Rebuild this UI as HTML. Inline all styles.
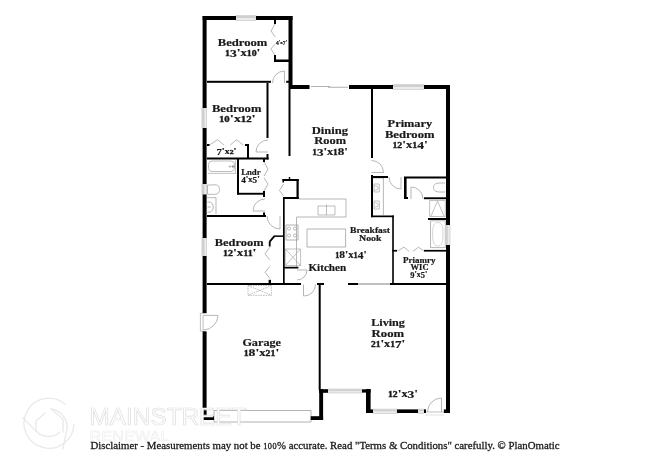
<!DOCTYPE html><html><head><meta charset="utf-8"><style>html,body{margin:0;padding:0;background:#fff;}svg{display:block;filter:grayscale(1)}</style></head><body>
<svg width="650" height="473" viewBox="0 0 650 473">
<rect width="650" height="473" fill="#fff"/>
<path d="M269.7,241.6 L274.4,236.1" fill="none" stroke="#000" stroke-width="1.8"/>
<path d="M284.5,83 L284.5,71 A12.0,12.0 0 0 0 272.5,83" fill="none" stroke="#a4a4a4" stroke-width="0.8"/>
<path d="M268,152 L256,152 A12.0,12.0 0 0 1 268,140" fill="none" stroke="#a4a4a4" stroke-width="0.8"/>
<path d="M265,211 L253,211 A12.0,12.0 0 0 1 265,199" fill="none" stroke="#a4a4a4" stroke-width="0.8"/>
<path d="M280,216 L280,229 A13.0,13.0 0 0 1 267,216" fill="none" stroke="#a4a4a4" stroke-width="0.8"/>
<path d="M203.1,315.4 L218,315.4 A14.9,14.9 0 0 1 203.1,330" fill="none" stroke="#a4a4a4" stroke-width="0.8"/>
<path d="M203.1,315.4 V330 M203,313.2 H200.4 V331.2 H203" fill="none" stroke="#a8a8a8" stroke-width="0.7"/>
<path d="M441.5,412 L441.5,398 A14.0,14.0 0 0 0 427.5,412" fill="none" stroke="#a4a4a4" stroke-width="0.8"/>
<path d="M426,412 H444" fill="none" stroke="#a8a8a8" stroke-width="0.7"/>
<path d="M425,415 H444" fill="none" stroke="#cccccc" stroke-width="0.6"/>
<path d="M371.5,172.5 L383.5,172.5 A12.0,12.0 0 0 0 371.5,160.5" fill="none" stroke="#a4a4a4" stroke-width="0.8"/>
<path d="M401,177 L401,189 A12.0,12.0 0 0 1 389,177" fill="none" stroke="#a4a4a4" stroke-width="0.8"/>
<path d="M411,199 L411,187 A12.0,12.0 0 0 1 423,199" fill="none" stroke="#a4a4a4" stroke-width="0.8"/>
<path d="M297,270 L307,270 A10.0,10.0 0 0 1 297,280" fill="none" stroke="#a4a4a4" stroke-width="0.8"/>
<path d="M303.5,284.5 L303.5,296 A11.5,11.5 0 0 0 315.5,284.5" fill="none" stroke="#a4a4a4" stroke-width="0.8"/>
<path d="M275,24 L271,31 L275.3,37 M275.3,43.8 L271,48.8 L275,55.6" fill="none" stroke="#a4a4a4" stroke-width="0.8"/>
<path d="M209.5,145 L217.5,139.7 L224,145 M230.3,145 L236.6,139.7 L243.2,145" fill="none" stroke="#a4a4a4" stroke-width="0.8"/>
<path d="M264,162 L268,169 L264,176 M264,178 L268,184 L264,191" fill="none" stroke="#a4a4a4" stroke-width="0.8"/>
<path d="M283.5,184 L279.5,190.5 L283.5,196" fill="none" stroke="#a4a4a4" stroke-width="0.8"/>
<path d="M269.8,247.2 L265,253.9 L269.8,259.8 M269.8,266.4 L265,272.4 L269.8,278.3" fill="none" stroke="#a4a4a4" stroke-width="0.8"/>
<path d="M397.5,251 L404,247.2 L409,251.3 M413,251.3 L418.6,247.2 L423.8,251" fill="none" stroke="#a4a4a4" stroke-width="0.8"/>
<path d="M208,173.4 H235.5 M235.5,160.5 V174" fill="none" stroke="#b4b4b4" stroke-width="0.8"/>
<path d="M212,161 H231 a3.5,3.5 0 0 1 3.5,3.5 V168 a3.5,3.5 0 0 1 -3.5,3.5 H212 a3.5,3.5 0 0 1 -3.5,-3.5 V164.5 a3.5,3.5 0 0 1 3.5,-3.5 Z" fill="none" stroke="#acacac" stroke-width="0.8"/>
<path d="M228.5,166.5 h3 M230,165 v3" fill="none" stroke="#a0a0a0" stroke-width="0.6"/>
<path d="M233,166.5 m-0.9,0 a0.9,0.9 0 1,0 1.8,0 a0.9,0.9 0 1,0 -1.8,0" fill="#909090" stroke="#909090" stroke-width="0.6"/>
<path d="M207.5,185 h4 c6,-1 8,1 8,4.5 c0,3.5 -2,5.5 -8,4.8 h-4 Z" fill="none" stroke="#a4a4a4" stroke-width="0.8"/>
<path d="M207,197.7 H216 V214" fill="none" stroke="#a4a4a4" stroke-width="0.8"/>
<path d="M207.5,202 h1.5 a4.3,5.1 0 0 1 0,10.2 h-1.5 M207.5,207 h3" fill="none" stroke="#a0a0a0" stroke-width="0.8"/>
<path d="M298.7,199 H346 V217 H296.5 V267" fill="none" stroke="#a4a4a4" stroke-width="0.8"/>
<path d="M318,206 H335 V215 H318 Z M326.5,206 V215 M326.5,206 v-1.5" fill="none" stroke="#a0a0a0" stroke-width="0.7"/>
<path d="M307,229 H345.6 V247 H307 Z" fill="none" stroke="#a0a0a0" stroke-width="0.8"/>
<path d="M286,225 H298 V240 H286 Z" fill="none" stroke="#a0a0a0" stroke-width="0.8"/>
<path d="M289,228.5 m-1.6,0 a1.6,1.6 0 1,0 3.2,0 a1.6,1.6 0 1,0 -3.2,0 M295,228.5 m-1.6,0 a1.6,1.6 0 1,0 3.2,0 a1.6,1.6 0 1,0 -3.2,0 M289,235.5 m-1.6,0 a1.6,1.6 0 1,0 3.2,0 a1.6,1.6 0 1,0 -3.2,0 M295,235.5 m-1.6,0 a1.6,1.6 0 1,0 3.2,0 a1.6,1.6 0 1,0 -3.2,0" fill="none" stroke="#a0a0a0" stroke-width="0.7"/>
<path d="M285.3,249 H300.6 V265.6 H285.3 Z M285.3,249 L300.6,265.6 M300.6,249 L285.3,265.6" fill="none" stroke="#a8a8a8" stroke-width="0.7"/>
<path d="M373,178 H383.4 V215" fill="none" stroke="#a4a4a4" stroke-width="0.8"/>
<path d="M374,184 h5.3 v8 h-5.3 Z M374,201 h5.3 v8 h-5.3 Z" fill="none" stroke="#a8a8a8" stroke-width="0.7"/>
<path d="M374.5,186 h1.5 a2.2,2 0 0 1 0,4 h-1.5 M374.5,203 h1.5 a2.2,2 0 0 1 0,4 h-1.5" fill="none" stroke="#a0a0a0" stroke-width="0.6"/>
<path d="M445,183 h-5 c-5,0 -6.5,2 -6.5,4.5 c0,2.5 1.5,4.5 6.5,4.5 h5" fill="none" stroke="#a4a4a4" stroke-width="0.8"/>
<path d="M429.6,200.5 H445.3 V216.5 H429.6 Z M437.5,201 L431,216 M437.5,201 L444,216" fill="none" stroke="#a8a8a8" stroke-width="0.7"/>
<path d="M430.5,220.8 H445.3 V247.6 H430.5 Z" fill="none" stroke="#a4a4a4" stroke-width="0.8"/>
<path d="M437.8,222.5 c4,0 5.2,3 5.2,11.5 c0,8 -1.2,12 -5.2,12 c-4,0 -5.2,-4 -5.2,-12 c0,-8 1.2,-11.5 5.2,-11.5 Z" fill="none" stroke="#b8b8b8" stroke-width="0.6"/>
<path d="M248,285.5 H271.4 V295.3 H248 Z M248,285.5 L271.4,295.3 M271.4,285.5 L248,295.3" fill="none" stroke-dasharray="1.6,0.9" stroke="#a4a4a4" stroke-width="0.7"/>
<path d="M214,410.5 H311 V422 H214 Z" fill="none" stroke="#a0a0a0" stroke-width="0.8"/>
<path d="M311,86.5 H330 M328,87.2 H348" fill="none" stroke="#b0b0b0" stroke-width="1.1"/>
<path d="M358,284 H390" fill="none" stroke="#b0b0b0" stroke-width="1.6"/>
<path d="M424,409.5 V413 M444,409.5 V413" fill="none" stroke="#999" stroke-width="0.8"/>
<rect x="236" y="15.5" width="20.00" height="5.00" fill="#ececec" stroke="#c4c4c4" stroke-width="0.6"/>
<rect x="236.5" y="16" width="19.00" height="2.00" fill="#cfcfcf"/>
<rect x="201.9" y="108" width="4.70" height="20.00" fill="#ececec" stroke="#c4c4c4" stroke-width="0.6"/>
<rect x="202.1" y="108.5" width="2.30" height="19.00" fill="#cfcfcf"/>
<rect x="201.9" y="184" width="4.70" height="10.50" fill="#ececec" stroke="#c4c4c4" stroke-width="0.6"/>
<rect x="202.1" y="184.5" width="2.30" height="9.50" fill="#cfcfcf"/>
<rect x="201.9" y="238" width="4.70" height="18.00" fill="#ececec" stroke="#c4c4c4" stroke-width="0.6"/>
<rect x="202.1" y="238.5" width="2.30" height="17.00" fill="#cfcfcf"/>
<rect x="393" y="84.5" width="31.00" height="5.00" fill="#ececec" stroke="#c4c4c4" stroke-width="0.6"/>
<rect x="393.5" y="85" width="30.00" height="2.00" fill="#cfcfcf"/>
<rect x="445.3" y="225" width="4.70" height="20.00" fill="#ececec" stroke="#c4c4c4" stroke-width="0.6"/>
<rect x="445.5" y="225.5" width="2.30" height="19.00" fill="#cfcfcf"/>
<rect x="328" y="389.0" width="34.00" height="4.00" fill="#ececec" stroke="#c4c4c4" stroke-width="0.6"/>
<rect x="328.5" y="389.5" width="33.00" height="1.50" fill="#cfcfcf"/>
<rect x="373" y="409.1" width="24.00" height="4.20" fill="#ececec" stroke="#c4c4c4" stroke-width="0.6"/>
<rect x="373.5" y="409.6" width="23.00" height="1.60" fill="#cfcfcf"/>
<rect x="418" y="409.1" width="6.00" height="4.20" fill="#ececec" stroke="#c4c4c4" stroke-width="0.6"/>
<rect x="418.5" y="409.6" width="5.00" height="1.60" fill="#cfcfcf"/>
<rect x="202.6" y="16" width="33.40" height="4.00" fill="#000"/>
<rect x="256" y="16" width="36.50" height="4.00" fill="#000"/>
<rect x="288.5" y="16" width="4.00" height="73.00" fill="#000"/>
<rect x="202.6" y="16" width="4.00" height="92.00" fill="#000"/>
<rect x="202.6" y="128" width="4.00" height="56.00" fill="#000"/>
<rect x="202.6" y="194.5" width="4.00" height="43.50" fill="#000"/>
<rect x="202.6" y="256" width="4.00" height="57.20" fill="#000"/>
<rect x="202.6" y="331.3" width="4.00" height="88.70" fill="#000"/>
<rect x="274" y="20" width="2.00" height="4.00" fill="#000"/>
<rect x="274" y="55" width="2.00" height="7.00" fill="#000"/>
<rect x="274" y="59.5" width="15.00" height="2.50" fill="#000"/>
<rect x="207" y="80.8" width="64.00" height="2.00" fill="#000"/>
<rect x="286.2" y="80.8" width="2.80" height="2.00" fill="#000"/>
<rect x="266.5" y="83" width="2.00" height="55.00" fill="#000"/>
<rect x="266.5" y="154" width="2.00" height="5.50" fill="#000"/>
<rect x="289" y="85" width="20.50" height="4.00" fill="#000"/>
<rect x="349" y="85" width="44.00" height="4.00" fill="#000"/>
<rect x="424" y="85" width="26.00" height="4.00" fill="#000"/>
<rect x="288.5" y="89" width="2.00" height="67.00" fill="#000"/>
<rect x="371" y="85" width="2.00" height="73.00" fill="#000"/>
<rect x="446" y="85" width="4.00" height="140.00" fill="#000"/>
<rect x="446" y="245" width="4.00" height="168.00" fill="#000"/>
<rect x="207" y="144" width="2.50" height="2.00" fill="#000"/>
<rect x="245" y="144" width="4.00" height="2.00" fill="#000"/>
<rect x="247" y="144" width="2.00" height="14.00" fill="#000"/>
<rect x="207" y="157.5" width="61.50" height="2.00" fill="#000"/>
<rect x="237" y="159" width="2.00" height="35.50" fill="#000"/>
<rect x="237" y="192.8" width="28.00" height="1.90" fill="#000"/>
<rect x="263" y="191" width="2.00" height="6.00" fill="#000"/>
<rect x="263" y="159" width="2.00" height="3.00" fill="#000"/>
<rect x="207" y="215" width="59.00" height="2.00" fill="#000"/>
<rect x="263" y="212.5" width="2.00" height="4.50" fill="#000"/>
<rect x="282.5" y="179" width="16.20" height="2.00" fill="#000"/>
<rect x="296.5" y="179" width="2.20" height="20.00" fill="#000"/>
<rect x="283" y="197" width="15.70" height="2.00" fill="#000"/>
<rect x="282.5" y="179" width="1.50" height="3.50" fill="#000"/>
<rect x="283" y="197" width="1.70" height="88.00" fill="#000"/>
<rect x="274" y="235.4" width="9.00" height="1.50" fill="#000"/>
<rect x="268.8" y="241.3" width="1.80" height="5.20" fill="#000"/>
<rect x="268.6" y="279.8" width="2.40" height="4.20" fill="#000"/>
<rect x="288.8" y="177" width="1.40" height="2.00" fill="#000"/>
<rect x="284" y="266.8" width="14.40" height="1.70" fill="#000"/>
<rect x="207" y="283" width="94.00" height="2.00" fill="#000"/>
<rect x="317" y="283" width="7.00" height="2.00" fill="#000"/>
<rect x="348" y="283" width="10.00" height="2.00" fill="#000"/>
<rect x="390" y="283" width="56.00" height="2.00" fill="#000"/>
<rect x="318.7" y="283" width="2.00" height="107.00" fill="#000"/>
<rect x="319.2" y="389" width="3.90" height="31.00" fill="#000"/>
<rect x="202.6" y="416" width="11.40" height="4.00" fill="#000"/>
<rect x="310.7" y="416.2" width="12.40" height="3.80" fill="#000"/>
<rect x="371" y="176" width="17.00" height="2.00" fill="#000"/>
<rect x="404" y="176.5" width="42.00" height="2.00" fill="#000"/>
<rect x="371" y="175" width="2.00" height="42.20" fill="#000"/>
<rect x="371" y="215.5" width="22.80" height="1.70" fill="#000"/>
<rect x="392.2" y="215.5" width="1.60" height="69.50" fill="#000"/>
<rect x="404" y="177" width="2.60" height="22.00" fill="#000"/>
<rect x="404" y="197" width="4.00" height="2.00" fill="#000"/>
<rect x="424" y="197.3" width="22.00" height="1.90" fill="#000"/>
<rect x="428" y="218" width="18.00" height="2.00" fill="#000"/>
<rect x="392.2" y="249.9" width="4.80" height="1.70" fill="#000"/>
<rect x="424" y="249.9" width="22.00" height="1.70" fill="#000"/>
<rect x="392.2" y="283" width="53.80" height="2.00" fill="#000"/>
<rect x="319" y="389.2" width="9.00" height="3.60" fill="#000"/>
<rect x="362" y="389.3" width="8.60" height="3.30" fill="#000"/>
<rect x="366" y="389" width="4.60" height="24.00" fill="#000"/>
<rect x="366" y="409.4" width="7.00" height="3.60" fill="#000"/>
<rect x="397" y="409.4" width="21.00" height="3.60" fill="#000"/>
<rect x="424" y="409.4" width="2.00" height="3.60" fill="#000"/>
<rect x="444" y="409.4" width="6.00" height="3.60" fill="#000"/>
<g fill="none" stroke="#e9e9e9" stroke-width="1.3" stroke-linecap="round"><path d="M65,404 A25,25 0 1 0 74,424"/><path d="M51,409 A18,18 0 0 1 66,433 L63,449"/><path d="M23,418 L36,431 A17,17 0 0 0 60,432"/><path d="M51,409 L63,419 L63,432 M36,431 L36,421 L45,413"/></g>
<text x="89.5" y="425" font-family="Liberation Sans, sans-serif" font-size="23.5" fill="#fff" stroke="#dedede" stroke-width="0.7" textLength="157" lengthAdjust="spacingAndGlyphs">MAINSTREET</text>
<text x="89.5" y="440.5" font-family="Liberation Sans, sans-serif" font-size="13.8" fill="#fff" stroke="#ececec" stroke-width="0.5" textLength="80" lengthAdjust="spacingAndGlyphs">RENEWAL</text>
<text x="242.55" y="46.3" text-anchor="middle" font-family="Liberation Serif, serif" font-weight="bold" font-size="11" fill="#1a1a1a" stroke="#1a1a1a" stroke-width="0.2" textLength="49.7" lengthAdjust="spacingAndGlyphs">Bedroom</text>
<text x="242.70000000000002" y="56.4" text-anchor="middle" font-family="Liberation Serif, serif" font-weight="bold" font-size="11" fill="#1a1a1a" stroke="#1a1a1a" stroke-width="0.2" textLength="35.4" lengthAdjust="spacingAndGlyphs"><tspan font-size="7.92" stroke="#1a1a1a" stroke-width="0.35">1</tspan><tspan baseline-shift="-1.32">3</tspan>'<tspan font-size="10.12">x</tspan><tspan font-size="7.92" stroke="#1a1a1a" stroke-width="0.35">1</tspan><tspan font-size="7.92" stroke="#1a1a1a" stroke-width="0.35">0</tspan>'</text>
<text x="281.6" y="43.8" text-anchor="middle" font-family="Liberation Serif, serif" font-weight="bold" font-size="5.2" fill="#1a1a1a" stroke="#1a1a1a" stroke-width="0.2" textLength="11.2" lengthAdjust="spacingAndGlyphs"><tspan baseline-shift="-0.62">4</tspan>'<tspan font-size="4.78">x</tspan><tspan baseline-shift="-0.62">7</tspan>'</text>
<text x="236.65" y="111.7" text-anchor="middle" font-family="Liberation Serif, serif" font-weight="bold" font-size="11" fill="#1a1a1a" stroke="#1a1a1a" stroke-width="0.2" textLength="49.5" lengthAdjust="spacingAndGlyphs">Bedroom</text>
<text x="237.4" y="122.3" text-anchor="middle" font-family="Liberation Serif, serif" font-weight="bold" font-size="11" fill="#1a1a1a" stroke="#1a1a1a" stroke-width="0.2" textLength="36.8" lengthAdjust="spacingAndGlyphs"><tspan font-size="7.92" stroke="#1a1a1a" stroke-width="0.35">1</tspan><tspan font-size="7.92" stroke="#1a1a1a" stroke-width="0.35">0</tspan>'<tspan font-size="10.12">x</tspan><tspan font-size="7.92" stroke="#1a1a1a" stroke-width="0.35">1</tspan><tspan font-size="7.92" stroke="#1a1a1a" stroke-width="0.35">2</tspan>'</text>
<text x="226.55" y="154.4" text-anchor="middle" font-family="Liberation Serif, serif" font-weight="bold" font-size="8" fill="#1a1a1a" stroke="#1a1a1a" stroke-width="0.2" textLength="20.1" lengthAdjust="spacingAndGlyphs"><tspan baseline-shift="-0.96">7</tspan>'<tspan font-size="7.36">x</tspan><tspan font-size="5.76" stroke="#1a1a1a" stroke-width="0.35">2</tspan>'</text>
<text x="250.9" y="174.6" text-anchor="middle" font-family="Liberation Serif, serif" font-weight="bold" font-size="8.3" fill="#1a1a1a" stroke="#1a1a1a" stroke-width="0.2" textLength="19.4" lengthAdjust="spacingAndGlyphs">Lndr</text>
<text x="250.45000000000002" y="181.6" text-anchor="middle" font-family="Liberation Serif, serif" font-weight="bold" font-size="8.3" fill="#1a1a1a" stroke="#1a1a1a" stroke-width="0.2" textLength="18.5" lengthAdjust="spacingAndGlyphs"><tspan baseline-shift="-1.00">4</tspan>'<tspan font-size="7.64">x</tspan><tspan baseline-shift="-1.00">5</tspan>'</text>
<text x="239.2" y="245.8" text-anchor="middle" font-family="Liberation Serif, serif" font-weight="bold" font-size="11" fill="#1a1a1a" stroke="#1a1a1a" stroke-width="0.2" textLength="48.8" lengthAdjust="spacingAndGlyphs">Bedroom</text>
<text x="239.75" y="256.4" text-anchor="middle" font-family="Liberation Serif, serif" font-weight="bold" font-size="11" fill="#1a1a1a" stroke="#1a1a1a" stroke-width="0.2" textLength="33.5" lengthAdjust="spacingAndGlyphs"><tspan font-size="7.92" stroke="#1a1a1a" stroke-width="0.35">1</tspan><tspan font-size="7.92" stroke="#1a1a1a" stroke-width="0.35">2</tspan>'<tspan font-size="10.12">x</tspan><tspan font-size="7.92" stroke="#1a1a1a" stroke-width="0.35">1</tspan><tspan font-size="7.92" stroke="#1a1a1a" stroke-width="0.35">1</tspan>'</text>
<text x="261.7" y="345.8" text-anchor="middle" font-family="Liberation Serif, serif" font-weight="bold" font-size="11" fill="#1a1a1a" stroke="#1a1a1a" stroke-width="0.2" textLength="38.6" lengthAdjust="spacingAndGlyphs">Garage</text>
<text x="261.45" y="356.2" text-anchor="middle" font-family="Liberation Serif, serif" font-weight="bold" font-size="11" fill="#1a1a1a" stroke="#1a1a1a" stroke-width="0.2" textLength="35.5" lengthAdjust="spacingAndGlyphs"><tspan font-size="7.92" stroke="#1a1a1a" stroke-width="0.35">1</tspan>8'<tspan font-size="10.12">x</tspan><tspan font-size="7.92" stroke="#1a1a1a" stroke-width="0.35">2</tspan><tspan font-size="7.92" stroke="#1a1a1a" stroke-width="0.35">1</tspan>'</text>
<text x="329.95000000000005" y="133.7" text-anchor="middle" font-family="Liberation Serif, serif" font-weight="bold" font-size="11" fill="#1a1a1a" stroke="#1a1a1a" stroke-width="0.2" textLength="36.3" lengthAdjust="spacingAndGlyphs">Dining</text>
<text x="330.15" y="143.7" text-anchor="middle" font-family="Liberation Serif, serif" font-weight="bold" font-size="11" fill="#1a1a1a" stroke="#1a1a1a" stroke-width="0.2" textLength="31.7" lengthAdjust="spacingAndGlyphs">Room</text>
<text x="330.1" y="154.5" text-anchor="middle" font-family="Liberation Serif, serif" font-weight="bold" font-size="11" fill="#1a1a1a" stroke="#1a1a1a" stroke-width="0.2" textLength="35.8" lengthAdjust="spacingAndGlyphs"><tspan font-size="7.92" stroke="#1a1a1a" stroke-width="0.35">1</tspan><tspan baseline-shift="-1.32">3</tspan>'<tspan font-size="10.12">x</tspan><tspan font-size="7.92" stroke="#1a1a1a" stroke-width="0.35">1</tspan>8'</text>
<text x="409.9" y="126.7" text-anchor="middle" font-family="Liberation Serif, serif" font-weight="bold" font-size="11" fill="#1a1a1a" stroke="#1a1a1a" stroke-width="0.2" textLength="44.6" lengthAdjust="spacingAndGlyphs">Primary</text>
<text x="409.7" y="137.7" text-anchor="middle" font-family="Liberation Serif, serif" font-weight="bold" font-size="11" fill="#1a1a1a" stroke="#1a1a1a" stroke-width="0.2" textLength="49.6" lengthAdjust="spacingAndGlyphs">Bedroom</text>
<text x="410.1" y="148.1" text-anchor="middle" font-family="Liberation Serif, serif" font-weight="bold" font-size="11" fill="#1a1a1a" stroke="#1a1a1a" stroke-width="0.2" textLength="35.2" lengthAdjust="spacingAndGlyphs"><tspan font-size="7.92" stroke="#1a1a1a" stroke-width="0.35">1</tspan><tspan font-size="7.92" stroke="#1a1a1a" stroke-width="0.35">2</tspan>'<tspan font-size="10.12">x</tspan><tspan font-size="7.92" stroke="#1a1a1a" stroke-width="0.35">1</tspan><tspan baseline-shift="-1.32">4</tspan>'</text>
<text x="369.95" y="232.8" text-anchor="middle" font-family="Liberation Serif, serif" font-weight="bold" font-size="8.6" fill="#1a1a1a" stroke="#1a1a1a" stroke-width="0.2" textLength="39.8" lengthAdjust="spacingAndGlyphs">Breakfast</text>
<text x="370.29999999999995" y="240.7" text-anchor="middle" font-family="Liberation Serif, serif" font-weight="bold" font-size="8.6" fill="#1a1a1a" stroke="#1a1a1a" stroke-width="0.2" textLength="22.5" lengthAdjust="spacingAndGlyphs">Nook</text>
<text x="350.9" y="257.9" text-anchor="middle" font-family="Liberation Serif, serif" font-weight="bold" font-size="11" fill="#1a1a1a" stroke="#1a1a1a" stroke-width="0.2" textLength="31.4" lengthAdjust="spacingAndGlyphs"><tspan font-size="7.92" stroke="#1a1a1a" stroke-width="0.35">1</tspan>8'<tspan font-size="10.12">x</tspan><tspan font-size="7.92" stroke="#1a1a1a" stroke-width="0.35">1</tspan><tspan baseline-shift="-1.32">4</tspan>'</text>
<text x="327.29999999999995" y="271.2" text-anchor="middle" font-family="Liberation Serif, serif" font-weight="bold" font-size="11" fill="#1a1a1a" stroke="#1a1a1a" stroke-width="0.2" textLength="37.8" lengthAdjust="spacingAndGlyphs">Kitchen</text>
<text x="419.15" y="262.7" text-anchor="middle" font-family="Liberation Serif, serif" font-weight="bold" font-size="8.2" fill="#1a1a1a" stroke="#1a1a1a" stroke-width="0.2" textLength="32.5" lengthAdjust="spacingAndGlyphs">Priamry</text>
<text x="419.6" y="269.6" text-anchor="middle" font-family="Liberation Serif, serif" font-weight="bold" font-size="8.2" fill="#1a1a1a" stroke="#1a1a1a" stroke-width="0.2" textLength="18.0" lengthAdjust="spacingAndGlyphs">WIC</text>
<text x="418.79999999999995" y="276.9" text-anchor="middle" font-family="Liberation Serif, serif" font-weight="bold" font-size="8.2" fill="#1a1a1a" stroke="#1a1a1a" stroke-width="0.2" textLength="17.0" lengthAdjust="spacingAndGlyphs"><tspan baseline-shift="-0.98">9</tspan>'<tspan font-size="7.54">x</tspan><tspan baseline-shift="-0.98">5</tspan>'</text>
<text x="388.05" y="326" text-anchor="middle" font-family="Liberation Serif, serif" font-weight="bold" font-size="11" fill="#1a1a1a" stroke="#1a1a1a" stroke-width="0.2" textLength="33.7" lengthAdjust="spacingAndGlyphs">Living</text>
<text x="387.85" y="336.5" text-anchor="middle" font-family="Liberation Serif, serif" font-weight="bold" font-size="11" fill="#1a1a1a" stroke="#1a1a1a" stroke-width="0.2" textLength="32.5" lengthAdjust="spacingAndGlyphs">Room</text>
<text x="388.1" y="346.7" text-anchor="middle" font-family="Liberation Serif, serif" font-weight="bold" font-size="11" fill="#1a1a1a" stroke="#1a1a1a" stroke-width="0.2" textLength="34.4" lengthAdjust="spacingAndGlyphs"><tspan font-size="7.92" stroke="#1a1a1a" stroke-width="0.35">2</tspan><tspan font-size="7.92" stroke="#1a1a1a" stroke-width="0.35">1</tspan>'<tspan font-size="10.12">x</tspan><tspan font-size="7.92" stroke="#1a1a1a" stroke-width="0.35">1</tspan><tspan baseline-shift="-1.32">7</tspan>'</text>
<text x="403.05" y="397" text-anchor="middle" font-family="Liberation Serif, serif" font-weight="bold" font-size="11" fill="#1a1a1a" stroke="#1a1a1a" stroke-width="0.2" textLength="30.1" lengthAdjust="spacingAndGlyphs"><tspan font-size="7.92" stroke="#1a1a1a" stroke-width="0.35">1</tspan><tspan font-size="7.92" stroke="#1a1a1a" stroke-width="0.35">2</tspan>'<tspan font-size="10.12">x</tspan><tspan baseline-shift="-1.32">3</tspan>'</text>
<text x="90.5" y="448.7" font-family="Liberation Serif, serif" font-size="11" fill="#1a1a1a" stroke="#1a1a1a" stroke-width="0.3" textLength="469" lengthAdjust="spacingAndGlyphs">Disclaimer - Measurements may not be <tspan font-size="8.4" letter-spacing="0.5">100</tspan>% accurate. Read "Terms &amp; Conditions" carefully. © PlanOmatic</text>
</svg></body></html>
